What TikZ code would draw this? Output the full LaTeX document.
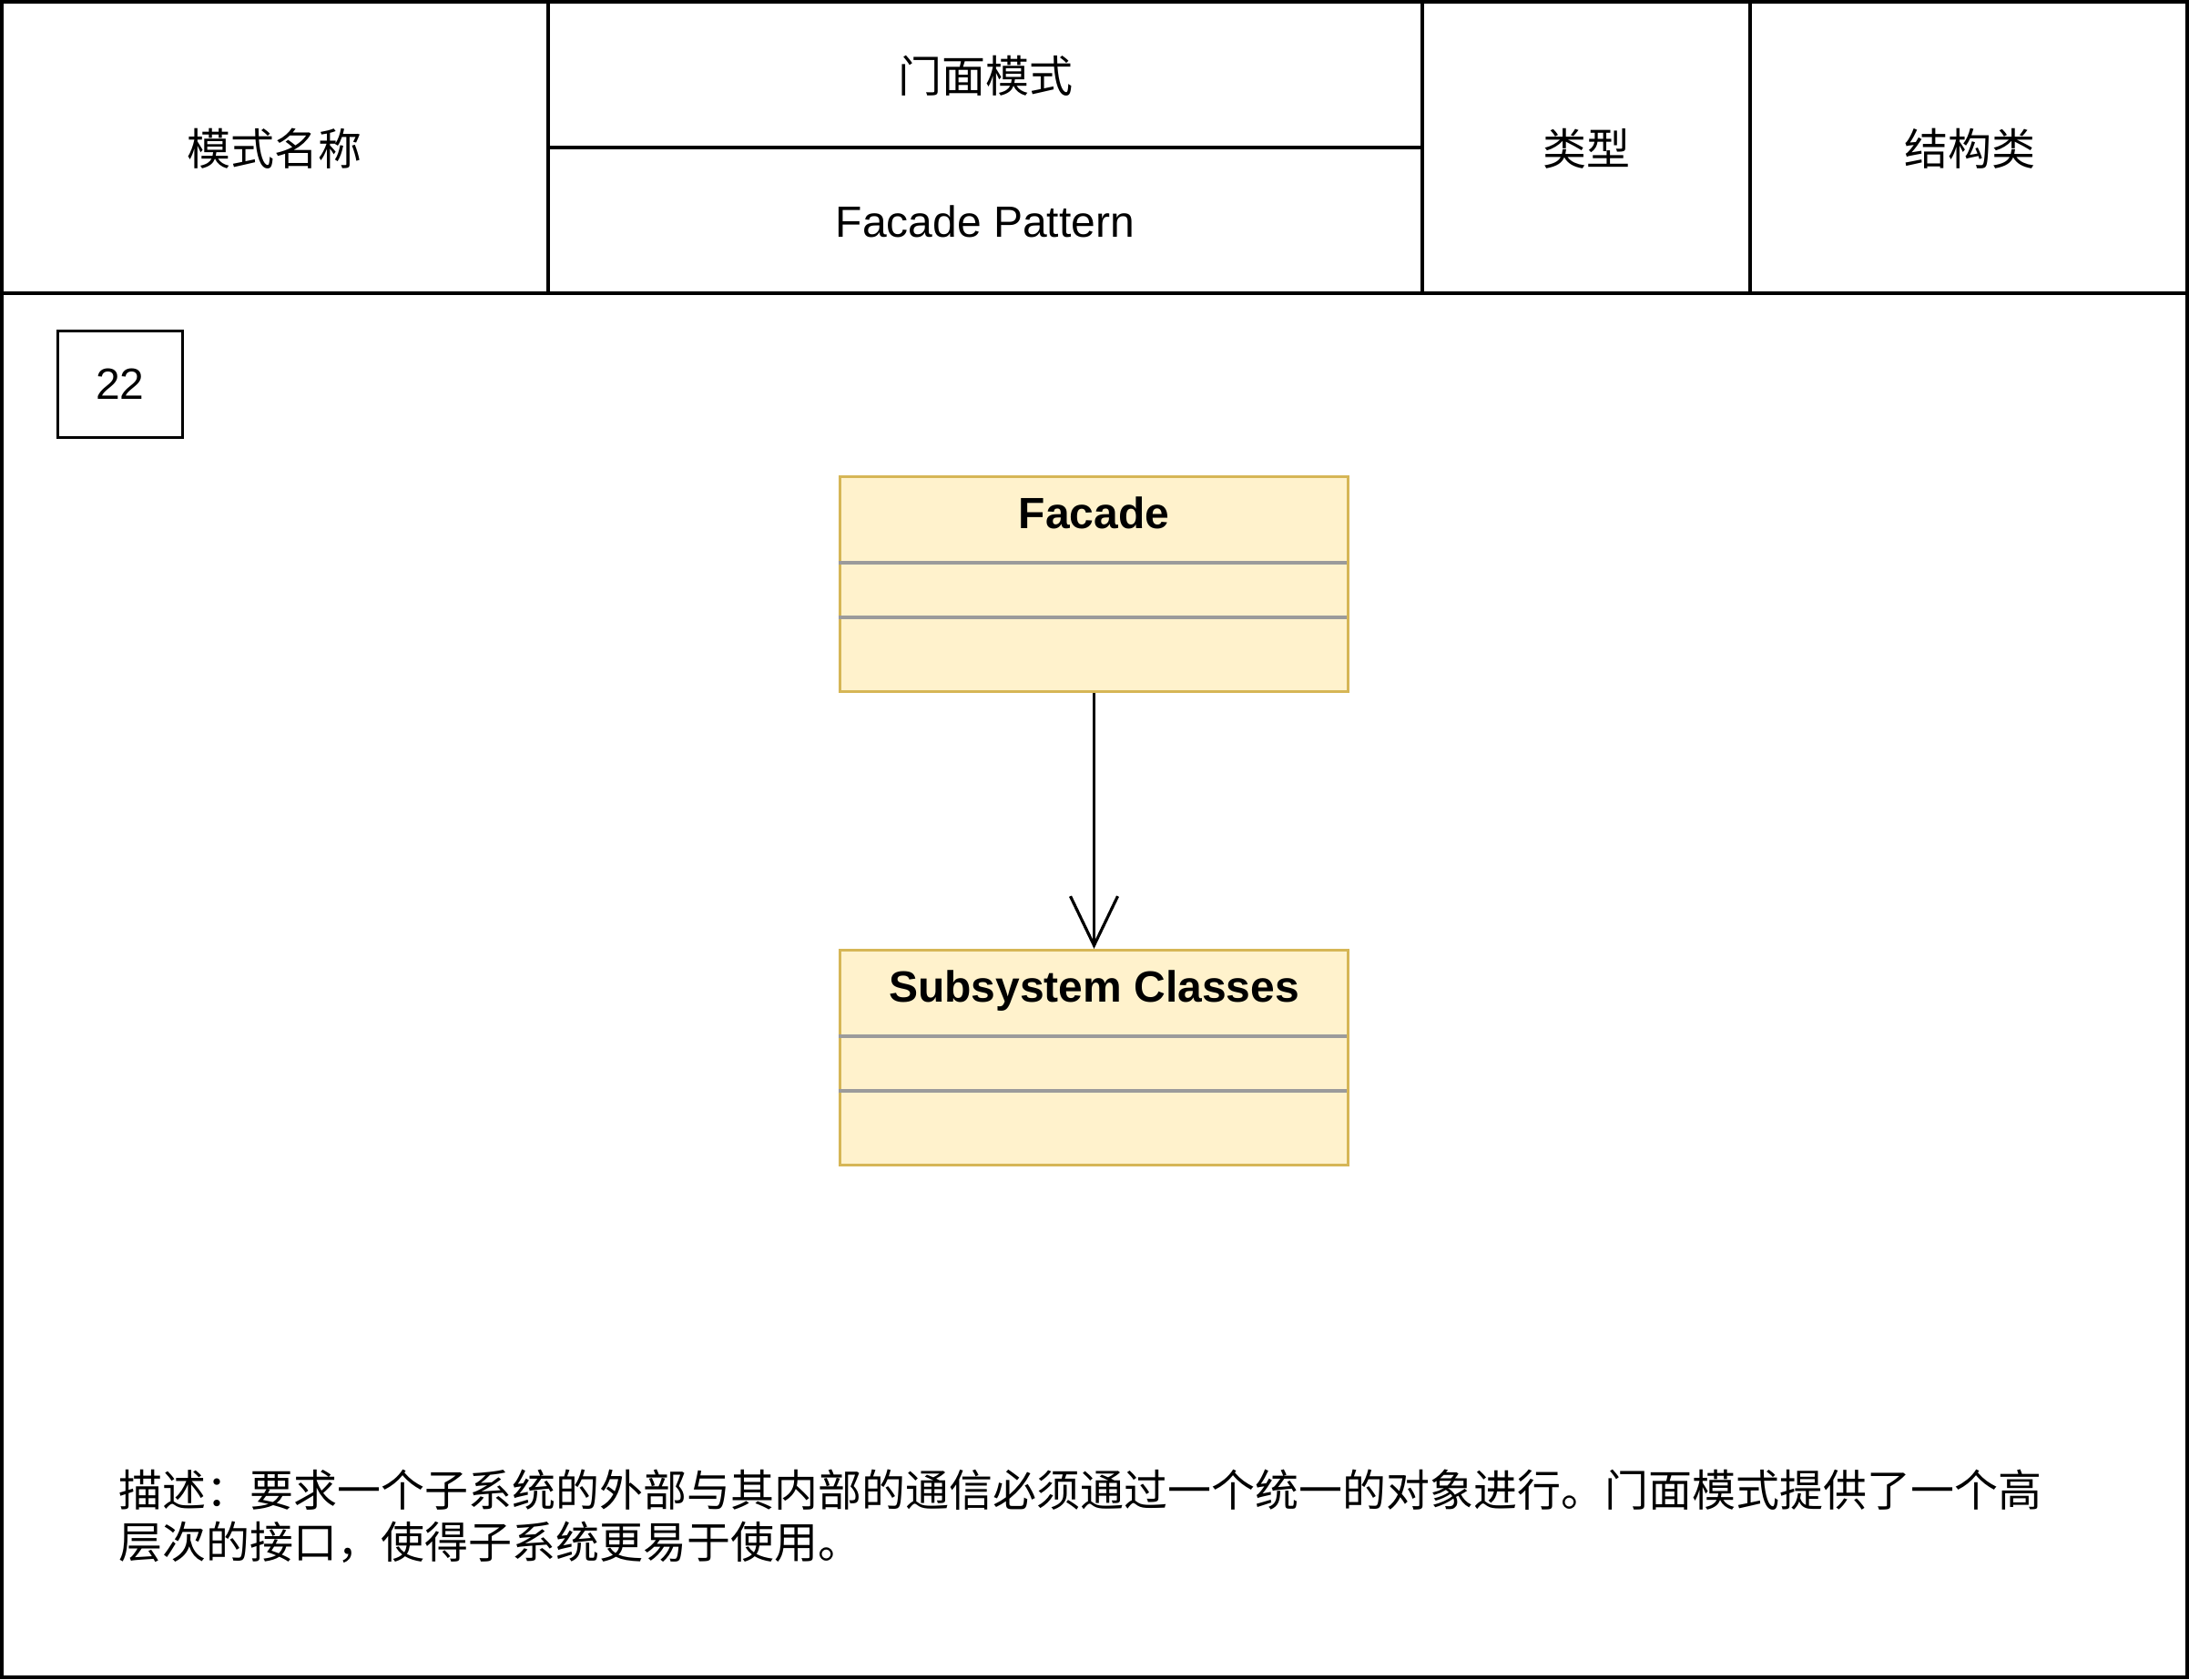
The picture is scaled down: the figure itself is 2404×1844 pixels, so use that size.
\documentclass[tikz,border=0pt]{standalone}
\usepackage{fontspec}
\setmainfont{Liberation Sans}
\newfontfamily\cjk{Noto Sans CJK SC}
\usetikzlibrary{arrows.meta,calc}
\definecolor{goldline}{HTML}{D6B656}
\definecolor{goldfill}{HTML}{FFF2CC}
\definecolor{sepgray}{HTML}{9B9B9B}
\begin{document}
\begin{tikzpicture}[x=0.5pt,y=-0.5pt,line width=1.5pt,
  gridline/.style={draw=black,line width=1.9pt},
  txt/.style={font=\fontsize{24pt}{28.5pt}\selectfont,inner sep=0pt},
  cjktxt/.style={font=\cjk\fontsize{24pt}{28.5pt}\selectfont,inner sep=0pt},
  numbox/.style={draw=black,line width=1.6pt,minimum width=68.5pt,minimum height=58.5pt,inner sep=0pt,font=\fontsize{24pt}{28.5pt}\selectfont},
  classbox/.style={draw=goldline,fill=goldfill,line width=1.6pt,minimum width=279pt,minimum height=118pt,inner sep=0pt},
  classtitle/.style={font=\bfseries\fontsize{24pt}{28.5pt}\selectfont,inner sep=0pt,anchor=base},
  sepline/.style={draw=sepgray,line width=1.6pt},
  assoc/.style={draw=black,line width=1.6pt,-{Straight Barb[length=27pt,width=26pt,line width=1.6pt]}}
]
\useasboundingbox (0,0) rectangle (2404,1844);
% outer frame and header grid
\draw[gridline] (1.9,1.9) rectangle (2402.1,1842.1);
\draw[gridline] (0,322) -- (2404,322);
\draw[gridline] (602,0) -- (602,322);
\draw[gridline] (1562,0) -- (1562,322);
\draw[gridline] (1922,0) -- (1922,322);
\draw[gridline] (602,162) -- (1562,162);
% header texts
\node[cjktxt] (hname) at (301,163) {模式名称};
\node[cjktxt] (hcn) at (1082,83) {门面模式};
\node[txt] (hen) at (1082,243) {Facade Pattern};
\node[cjktxt] (htype) at (1742,163) {类型};
\node[cjktxt] (hval) at (2163,163) {结构类};
% number box
\node[numbox] (num) at (132,422) {22};
% Facade class
\node[classbox] (facade) at (1201.5,641.5) {};
\node[classtitle] (facadetitle) at (1201.5,580) {Facade};
\draw[sepline] ($(facade.north west)+(0,96)$) -- ($(facade.north east)+(-3,96)$);
\draw[sepline] ($(facade.north west)+(0,156)$) -- ($(facade.north east)+(-3,156)$);
% Subsystem class
\node[classbox] (subsys) at (1201.5,1161.5) {};
\node[classtitle] (subsystitle) at (1201.5,1100) {Subsystem Classes};
\draw[sepline] ($(subsys.north west)+(0,96)$) -- ($(subsys.north east)+(-3,96)$);
\draw[sepline] ($(subsys.north west)+(0,156)$) -- ($(subsys.north east)+(-3,156)$);
% association
\draw[assoc] (facade.south) -- (subsys.north);
% description
\node[cjktxt,anchor=west,align=left] (desc) at (129,1665) {描述：要求一个子系统的外部与其内部的通信必须通过一个统一的对象进行。门面模式提供了一个高\\层次的接口，使得子系统更易于使用。};
\end{tikzpicture}
\end{document}
